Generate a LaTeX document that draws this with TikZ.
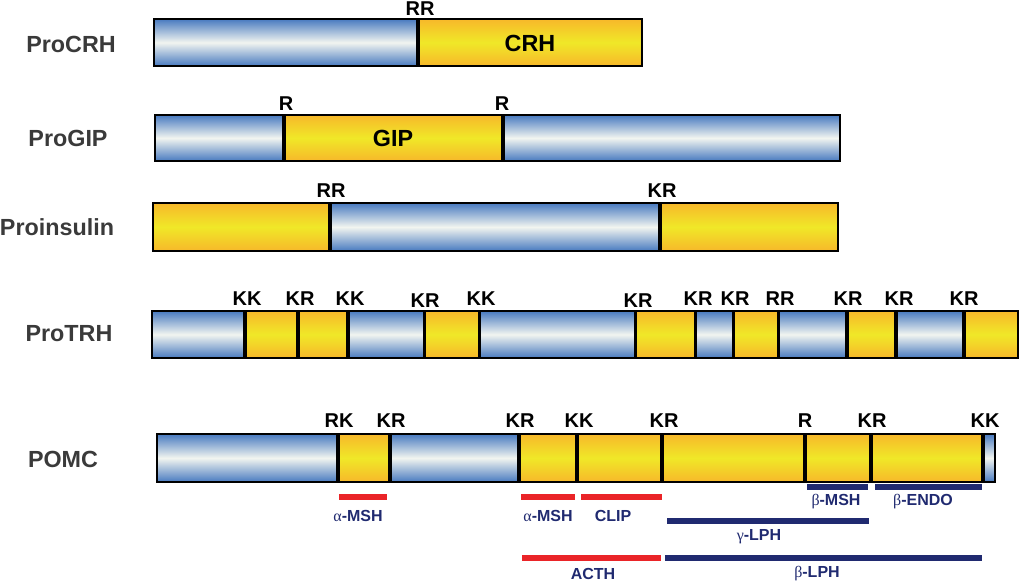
\documentclass[tikz,border=0pt]{standalone}
\usepackage{fontspec}
\setmainfont{Liberation Sans}
\newfontfamily\greekfont{Liberation Serif}
\usetikzlibrary{positioning}

\definecolor{segblue}{RGB}{72,122,192}
\definecolor{segwhite}{RGB}{242,245,240}
\definecolor{segorange}{RGB}{247,184,42}
\definecolor{segyellow}{RGB}{240,232,40}
\definecolor{cutred}{RGB}{234,36,40}
\definecolor{cutnavy}{RGB}{32,42,112}
\definecolor{namegray}{RGB}{58,58,58}

\newcommand{\gr}[1]{{\greekfont\mdseries #1}}

\tikzset{
  blueseg/.style={top color=segblue, bottom color=segblue, middle color=segwhite, draw=gray!55, line width=0.5pt},
  yellowseg/.style={top color=segorange, bottom color=segorange, middle color=segyellow, draw=gray!55, line width=0.5pt},
  outline/.style={draw=black, line width=2.2pt},
  cut/.style={draw=black, line width=2.9pt},
  protein/.style={text=namegray, font=\bfseries\fontsize{17.5}{17.5}\selectfont, inner sep=0pt},
  site/.style={font=\bfseries\fontsize{15}{15}\selectfont, inner sep=0pt},
  peptide/.style={font=\bfseries\fontsize{17.5}{17.5}\selectfont, inner sep=0pt},
  redbar/.style={draw=cutred, line width=3.8pt},
  navybar/.style={draw=cutnavy, line width=3.8pt},
  product/.style={text=cutnavy, font=\bfseries\fontsize{12}{12}\selectfont, inner sep=0pt}
}

\begin{document}
\begin{tikzpicture}[x=0.75pt, y=-0.75pt]
  \useasboundingbox (0,0) rectangle (1020,582);

  % ProCRH
  \node[protein] (crh) at (71,44) {ProCRH};
  \foreach \a/\b/\s in {154/418/blueseg, 418/642/yellowseg}
    \path[\s] (\a,19) rectangle (\b,66);
  \draw[cut] (418,19) -- (418,66);
  \draw[outline] (154,19) rectangle (642,66);
  \node[site] (crh-rr) at (420,9) {RR};
  \node[peptide] (crh-pep) at (530,43) {CRH};

  % ProGIP
  \node[protein] (gip) at (68,138) {ProGIP};
  \foreach \a/\b/\s in {155/284/blueseg, 284/503/yellowseg, 503/840/blueseg}
    \path[\s] (\a,115) rectangle (\b,161);
  \foreach \x in {284,503}
    \draw[cut] (\x,115) -- (\x,161);
  \draw[outline] (155,115) rectangle (840,161);
  \node[site] (gip-r1) at (286,104) {R};
  \node[site] (gip-r2) at (502,104) {R};
  \node[peptide] (gip-pep) at (393,138) {GIP};

  % Proinsulin
  \node[protein] (ins) at (57,227) {Proinsulin};
  \foreach \a/\b/\s in {153/330/yellowseg, 330/660/blueseg, 660/838/yellowseg}
    \path[\s] (\a,203) rectangle (\b,251);
  \foreach \x in {330,660}
    \draw[cut] (\x,203) -- (\x,251);
  \draw[outline] (153,203) rectangle (838,251);
  \node[site] (ins-rr) at (331,191) {RR};
  \node[site] (ins-kr) at (662,191) {KR};

  % ProTRH
  \node[protein] (trh) at (69,334) {ProTRH};
  \foreach \a/\b/\s in {152/245/blueseg, 245/298/yellowseg, 298/348/yellowseg,
      348/424.5/blueseg, 424.5/479.5/yellowseg, 479.5/635.5/blueseg,
      635.5/695.5/yellowseg, 695.5/733.5/blueseg, 733.5/778.5/yellowseg,
      778.5/847/blueseg, 847/896/yellowseg, 896/964/blueseg, 964/1018/yellowseg}
    \path[\s] (\a,311) rectangle (\b,358);
  \foreach \x in {245,298,348,424.5,479.5,635.5,695.5,733.5,778.5,847,896,964}
    \draw[cut] (\x,311) -- (\x,358);
  \draw[outline] (152,311) rectangle (1018,358);
  \foreach \x/\t/\y [count=\i] in {247/KK/299, 300/KR/299, 350/KK/299, 425/KR/301,
      481/KK/299, 638/KR/301, 698/KR/299, 735/KR/299, 780/RR/299,
      848/KR/299, 899/KR/299, 964/KR/299}
    \node[site] (trh-\i) at (\x,\y) {\t};

  % POMC
  \node[protein] (pomc) at (63,459) {POMC};
  \foreach \a/\b/\s in {157/338/blueseg, 338/390/yellowseg, 390/519/blueseg,
      519/577/yellowseg, 577/662/yellowseg, 662/805/yellowseg,
      805/871/yellowseg, 871/983/yellowseg, 983/995/blueseg}
    \path[\s] (\a,434) rectangle (\b,482);
  \foreach \x in {338,390,519,577,662,805,871,983}
    \draw[cut] (\x,434) -- (\x,482);
  \draw[outline] (157,434) rectangle (995,482);
  \foreach \x/\t [count=\i] in {339/RK, 391/KR, 520/KR, 579/KK, 664/KR,
      805/R, 872/KR, 985/KK}
    \node[site] (pomc-\i) at (\x,421) {\t};

  % products
  \draw[redbar] (339,497) -- (387,497);
  \node[product] (amsh1) at (358,516) {\gr{α}-MSH};
  \draw[redbar] (521,497) -- (575,497);
  \node[product] (amsh2) at (548,516) {\gr{α}-MSH};
  \draw[redbar] (581,497) -- (662,497);
  \node[product] (clip) at (613,516) {CLIP};
  \draw[navybar] (807,487) -- (868,487);
  \node[product] (bmsh) at (836,502) {\gr{β}-MSH};
  \draw[navybar] (875,487) -- (982,487);
  \node[product] (bendo) at (923,502) {\gr{β}-ENDO};
  \draw[navybar] (667,521) -- (869,521);
  \node[product] (glph) at (759,537) {\gr{γ}-LPH};
  \draw[redbar] (522,558) -- (661,558);
  \node[product] (acth) at (593,574) {ACTH};
  \draw[navybar] (665,558) -- (982,558);
  \node[product] (blph) at (817,574) {\gr{β}-LPH};
\end{tikzpicture}
\end{document}
